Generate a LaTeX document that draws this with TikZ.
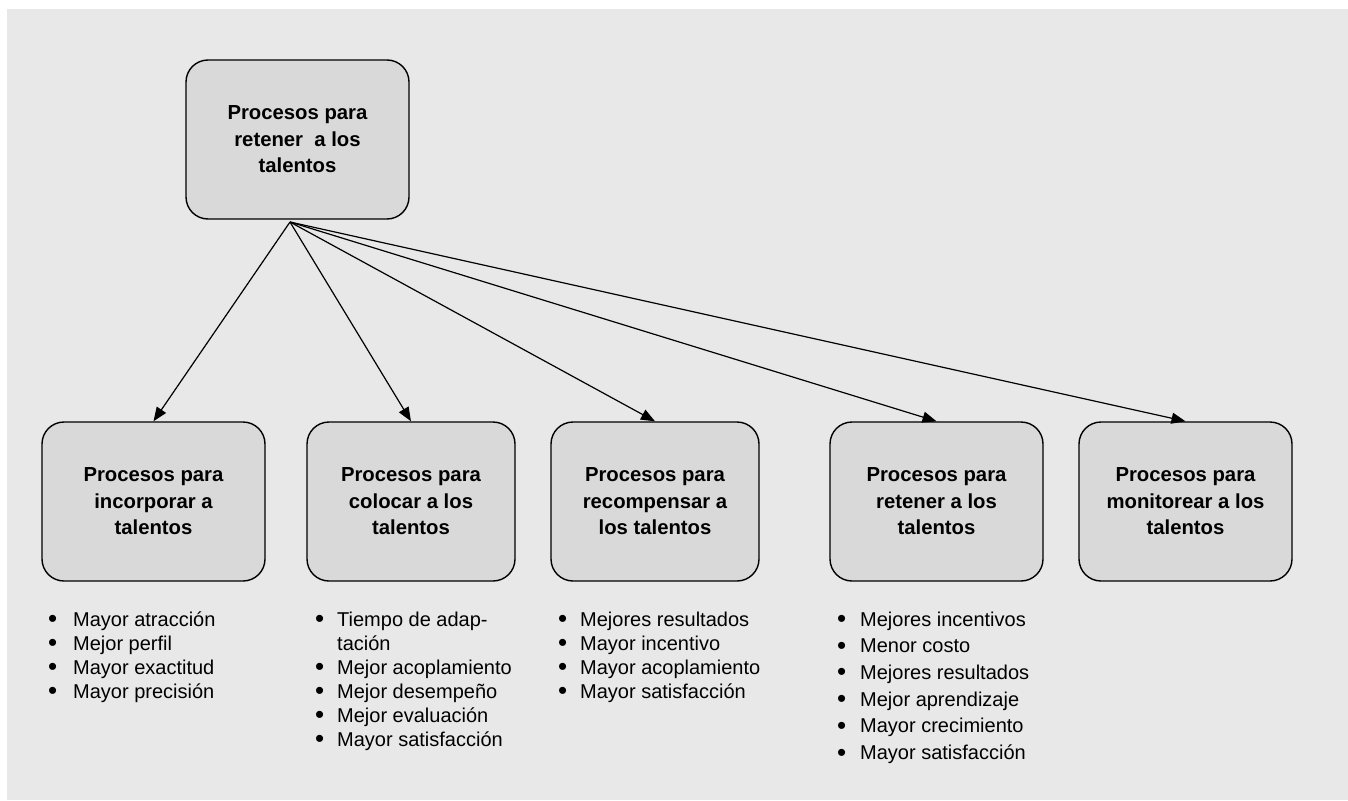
\documentclass[tikz,border=0pt]{standalone}
\usepackage{fontspec}
\setmainfont{Liberation Sans}
\usetikzlibrary{arrows.meta}
\definecolor{bgc}{HTML}{E8E8E8}
\definecolor{boxc}{HTML}{D9D9D9}
\newcommand{\bul}{\raisebox{-1.5pt}{\scalebox{1.3}{\textbullet}}}
\begin{document}
\begin{tikzpicture}[x=1pt,y=-1pt,
  proc/.style={draw=black, line width=1.4pt, fill=boxc, rounded corners=22pt,
    minimum height=159pt, align=center, inner sep=0pt,
    font=\fontsize{20.3}{26.5}\selectfont\bfseries},
  lst/.style={anchor=base west, inner sep=0pt},
  arr/.style={line width=1.2pt, -{Triangle[length=14pt,width=11pt]}}]
\useasboundingbox (0,0) rectangle (1348,800);
\fill[bgc] (7,9) rectangle (1348,800);

\node[proc, minimum width=223pt] (top) at (297.5,139.5) {Procesos para\\retener\ \ a los\\talentos};
\node[proc, minimum width=223pt] (b1) at (153.5,501.5) {Procesos para\\incorporar a\\talentos};
\node[proc, minimum width=208pt] (b2) at (411,501.5) {Procesos para\\colocar a los\\talentos};
\node[proc, minimum width=208pt] (b3) at (655,501.5) {Procesos para\\recompensar a\\los talentos};
\node[proc, minimum width=213pt] (b4) at (936.5,501.5) {Procesos para\\retener a los\\talentos};
\node[proc, minimum width=213pt] (b5) at (1185.5,501.5) {Procesos para\\monitorear a los\\talentos};

\coordinate (o) at (290,222);
\foreach \b in {b1,b2,b3,b4,b5}
  \draw[arr] (o) -- (\b.north);

\node[lst, font=\fontsize{20}{24}\selectfont] (l1) at (48,626) {%
  \begin{tabular}[t]{@{}p{25pt}@{}l@{}}
  \bul & Mayor atracción\\
  \bul & Mejor perfil\\
  \bul & Mayor exactitud\\
  \bul & Mayor precisión
  \end{tabular}};
\node[lst, font=\fontsize{20}{24}\selectfont] (l2) at (315,626) {%
  \begin{tabular}[t]{@{}p{22pt}@{}l@{}}
  \bul & Tiempo de adap-\\
   & tación\\
  \bul & Mejor acoplamiento\\
  \bul & Mejor desempeño\\
  \bul & Mejor evaluación\\
  \bul & Mayor satisfacción
  \end{tabular}};
\node[lst, font=\fontsize{20}{24}\selectfont] (l3) at (558,626) {%
  \begin{tabular}[t]{@{}p{22pt}@{}l@{}}
  \bul & Mejores resultados\\
  \bul & Mayor incentivo\\
  \bul & Mayor acoplamiento\\
  \bul & Mayor satisfacción
  \end{tabular}};
\node[lst, font=\fontsize{20}{26.7}\selectfont] (l4) at (837,626) {%
  \begin{tabular}[t]{@{}p{23pt}@{}l@{}}
  \bul & Mejores incentivos\\
  \bul & Menor costo\\
  \bul & Mejores resultados\\
  \bul & Mejor aprendizaje\\
  \bul & Mayor crecimiento\\
  \bul & Mayor satisfacción
  \end{tabular}};
\end{tikzpicture}
\end{document}
